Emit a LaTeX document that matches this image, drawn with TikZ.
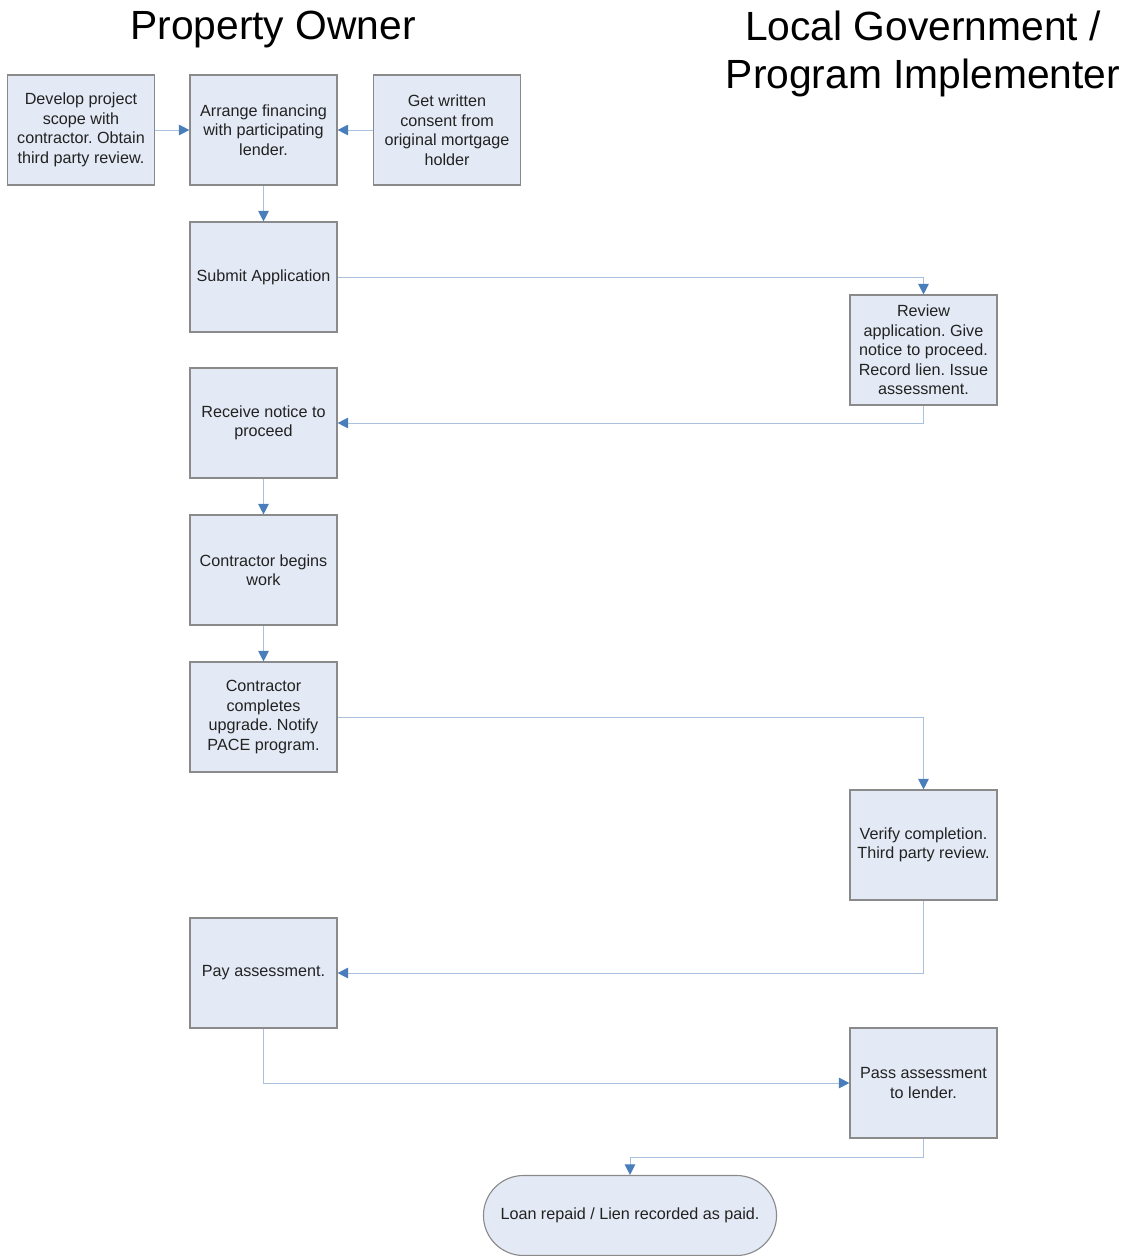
\documentclass[tikz,border=0pt]{standalone}
\usepackage{fontspec}
\setmainfont{Liberation Sans}
\usetikzlibrary{arrows.meta, shapes.misc}
\definecolor{boxfill}{HTML}{E4EAF5}
\definecolor{boxline}{HTML}{8A8A8A}
\definecolor{flowline}{HTML}{A9C1DE}
\definecolor{flowtip}{HTML}{4A7EBB}
\definecolor{txtdark}{HTML}{222222}
\frenchspacing

\begin{document}
\begin{tikzpicture}[
    x=0.025cm, y=-0.025cm,
    box/.style={draw=boxline, fill=boxfill, line width=0.8pt,
        minimum width=3.675cm, minimum height=2.75cm, inner sep=0pt,
        align=center, text=txtdark, font=\fontsize{11.5}{13.9}\selectfont},
    endbox/.style={box, rounded rectangle, minimum width=7.325cm, minimum height=2cm},
    flow/.style={draw=flowline, line width=0.7pt,
        -{Triangle[color=flowtip, length=7.5pt, width=7.5pt]}},
    lanetitle/.style={align=center, text=black, font=\fontsize{29}{33.5}\selectfont},
]
\useasboundingbox (0,0) rectangle (1127,1256);

% Lane titles
\node[lanetitle] (owner) at (273,29) {Property Owner};
\node[lanetitle] (govt) at (923,54) {Local Government /\\Program Implementer};

% Property owner steps
\node[box] (scope) at (81,130) {Develop project\\scope with\\contractor. Obtain\\third party review.};
\node[box] (arrange) at (263.5,130) {Arrange financing\\with participating\\lender.};
\node[box] (consent) at (447,130) {Get written\\consent from\\original mortgage\\holder};
\node[box] (submit) at (263.5,277) {Submit Application};
\node[box] (receive) at (263.5,423) {Receive notice to\\proceed};
\node[box] (begins) at (263.5,570) {Contractor begins\\work};
\node[box] (completes) at (263.5,717) {Contractor\\completes\\upgrade. Notify\\PACE program.};
\node[box] (pay) at (263.5,973) {Pay assessment.};

% Government steps
\node[box] (review) at (923.5,350) {Review\\application. Give\\notice to proceed.\\Record lien. Issue\\assessment.};
\node[box] (verify) at (923.5,845) {Verify completion.\\Third party review.};
\node[box] (pass) at (923.5,1083) {Pass assessment\\to lender.};

% End
\node[endbox] (loan) at (630,1215.5) {Loan repaid / Lien recorded as paid.};
\coordinate (turn) at (923.5,1157);

% Connectors
\draw[flow] (scope) -- (arrange);
\draw[flow] (consent) -- (arrange);
\draw[flow] (arrange) -- (submit);
\draw[flow] (submit.east) -| (review.north);
\draw[flow] (review.south) |- (receive.east);
\draw[flow] (receive) -- (begins);
\draw[flow] (begins) -- (completes);
\draw[flow] (completes.east) -| (verify.north);
\draw[flow] (verify.south) |- (pay.east);
\draw[flow] (pay.south) |- (pass.west);
\draw[flow] (pass.south) -- (turn) -| (loan.north);

\end{tikzpicture}
\end{document}
